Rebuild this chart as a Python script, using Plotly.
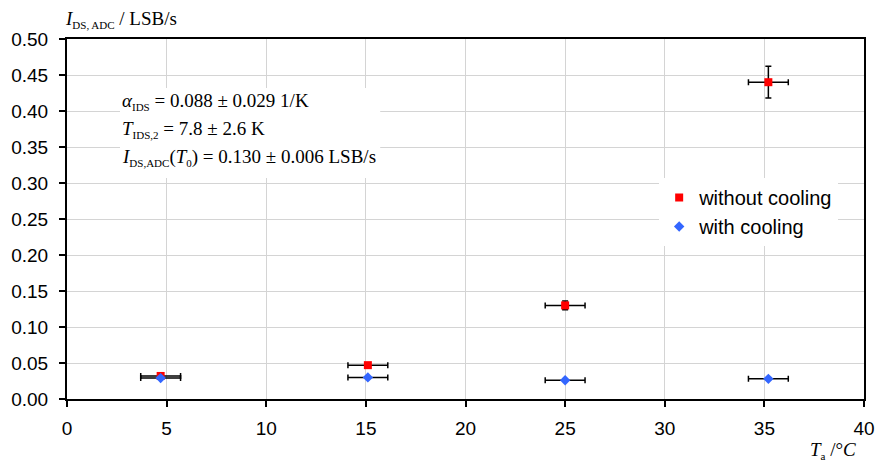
import plotly.graph_objects as go

# Data
temp_without = [4.7, 15.1, 25.0, 35.2]
ids_without = [0.032, 0.047, 0.130, 0.440]
err_ids_without = [0.002, 0.002, 0.006, 0.022]
err_temp_without = [1.0, 1.0, 1.0, 1.0]

temp_with = [4.7, 15.1, 25.0, 35.2]
ids_with = [0.029, 0.030, 0.026, 0.028]
err_ids_with = [0.001, 0.001, 0.001, 0.001]
err_temp_with = [1.0, 1.0, 1.0, 1.0]

x_ticks = [0, 5, 10, 15, 20, 25, 30, 35, 40]
y_ticks = [0.00, 0.05, 0.10, 0.15, 0.20, 0.25, 0.30, 0.35, 0.40, 0.45, 0.50]
y_tick_labels = [f"{v:.2f}" for v in y_ticks]

SUB = "<sub><span style='font-size:11px'>{}</span></sub>"
fit_lines = [
    "<i>α</i>" + SUB.format("IDS") + " = 0.088 ± 0.029 1/K",
    "<i>T</i>" + SUB.format("IDS,2") + " = 7.8 ± 2.6 K",
    "<i>I</i>" + SUB.format("DS,ADC") + "(<i>T</i>" + SUB.format("0") + ") = 0.130 ± 0.006 LSB/s",
]

SERIF = "Liberation Serif, Times New Roman, serif"
SANS = "Liberation Sans, Arial, sans-serif"

fig = go.Figure()
fig.add_trace(go.Scatter(
    x=temp_without, y=ids_without, mode="markers", name="without cooling",
    marker=dict(symbol="square", size=8, color="#ff0000"),
    error_x=dict(type="data", array=err_temp_without, color="black", thickness=1.5, width=3),
    error_y=dict(type="data", array=err_ids_without, color="black", thickness=1.5, width=3),
))
fig.add_trace(go.Scatter(
    x=temp_with, y=ids_with, mode="markers", name="with cooling",
    marker=dict(symbol="diamond", size=8, color="#3366ff"),
    error_x=dict(type="data", array=err_temp_with, color="black", thickness=1.5, width=3),
    error_y=dict(type="data", array=err_ids_with, color="black", thickness=1.5, width=3),
))

fig.update_xaxes(
    range=[0, 40], tickvals=x_ticks, ticks="outside", ticklen=6, tickwidth=1.5,
    tickcolor="black", showgrid=True, gridcolor="#d4d4d4", gridwidth=1,
    showline=True, linecolor="black", linewidth=2, mirror=True, zeroline=False,
    ticklabelstandoff=5, automargin=False,
    tickfont=dict(family=SANS, size=19, color="black"),
)
fig.update_yaxes(
    range=[0, 0.5], tickvals=y_ticks, ticktext=y_tick_labels, ticks="outside",
    ticklen=6, tickwidth=1.5, tickcolor="black", showgrid=True, gridcolor="#d4d4d4",
    gridwidth=1, showline=True, linecolor="black", linewidth=2, mirror=True,
    zeroline=False, ticklabelstandoff=7, automargin=False,
    tickfont=dict(family=SANS, size=19, color="black"),
)

# white box behind the fit text
fig.add_shape(type="rect", xref="paper", yref="paper", x0=0.0665, x1=0.393,
              y0=0.614, y1=0.864, fillcolor="white", line=dict(width=0), layer="above")

for i, line in enumerate(fit_lines):
    fig.add_annotation(xref="paper", yref="paper", x=0.066, y=0.826 - i * 0.077,
                       xanchor="left", yanchor="middle", text=line, showarrow=False,
                       font=dict(family=SERIF, size=19, color="black"))

fig.add_annotation(xref="paper", yref="paper", x=-0.005, y=1.053, xanchor="left",
                   yanchor="middle", showarrow=False,
                   text="<i>I</i>" + SUB.format("DS, ADC") + " / LSB/s",
                   font=dict(family=SERIF, size=19, color="black"))
fig.add_annotation(xref="paper", yref="paper", x=0.993, y=-0.144, xanchor="right",
                   yanchor="middle", showarrow=False,
                   text="<i>T</i>" + SUB.format("a") + " /°<i>C</i>",
                   font=dict(family=SERIF, size=19, color="black"))

fig.update_layout(
    width=878, height=461,
    margin=dict(l=67, r=14, t=39, b=62),
    paper_bgcolor="white", plot_bgcolor="white",
    showlegend=True,
    legend=dict(x=0.743, y=0.614, xanchor="left", yanchor="top", bgcolor="white",
                font=dict(family=SANS, size=20, color="black"), tracegroupgap=0,
                itemwidth=30),
)

fig.write_html("out.html", post_script="document.body.style.margin='0';",
               config={"displayModeBar": False})
